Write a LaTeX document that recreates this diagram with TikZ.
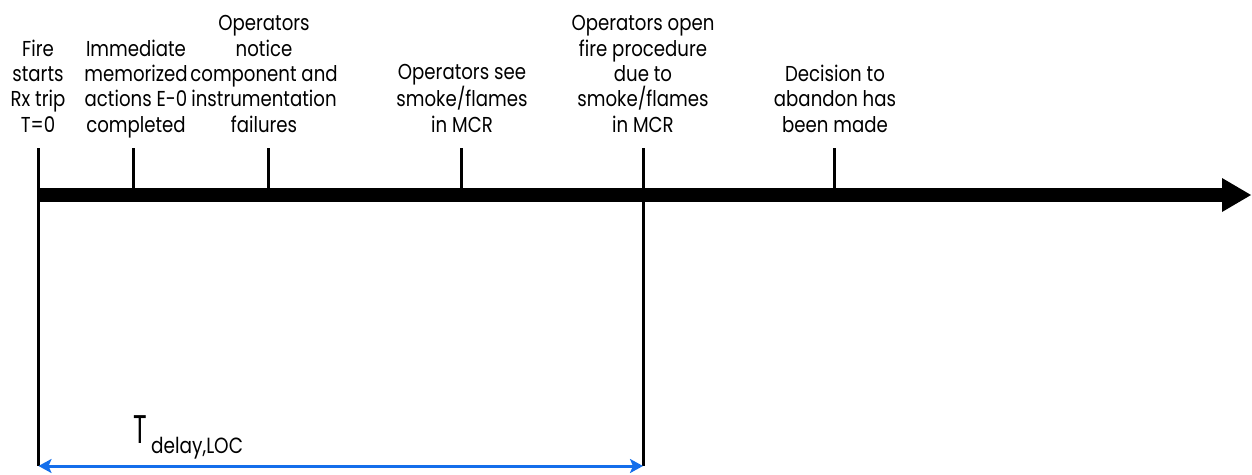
\documentclass[tikz,border=0pt]{standalone}
\usepackage{fontspec}
\setmainfont{Poppins}[FakeStretch=0.84]
\usetikzlibrary{arrows.meta}
\definecolor{tblue}{RGB}{20,110,235}
\begin{document}
\begin{tikzpicture}[x=1pt,y=-1pt,
  lbl/.style={align=center,anchor=base,inner sep=0pt,font=\fontsize{21.6}{25.3}\selectfont},
  tick/.style={line width=3pt},
  axis/.style={line width=14pt}]
\useasboundingbox (0,0) rectangle (1252,474);
% labels
\node[lbl] (l1) at (38,132) {Fire\\starts\\Rx trip\\T=0};
\node[lbl] (l2) at (136,132) {Immediate\\memorized\\actions E-0\\completed};
\node[lbl] (l3) at (264,132) {Operators\\notice\\component and\\instrumentation\\failures};
\node[lbl] (l4) at (462,132) {Operators see\\smoke/flames\\in MCR};
\node[lbl] (l5) at (643,132) {Operators open\\fire procedure\\due to\\smoke/flames\\in MCR};
\node[lbl] (l6) at (835,132) {Decision to\\abandon has\\been made};
% axis points
\coordinate (a0) at (38.5,195);
\coordinate (a1) at (133,195);
\coordinate (a2) at (268,195);
\coordinate (a3) at (461,195);
\coordinate (a4) at (643,195);
\coordinate (a5) at (834,195);
\coordinate (aend) at (1223,195);
\coordinate (tip) at (1251,195);
% axis
\draw[axis] (a0) -- (aend);
\fill (1222,178) -- (tip) -- (1222,212) -- cycle;
% ticks
\draw[tick] (38.5,148) -- (38.5,466);
\draw[tick] (a1) -- (a1 |- 0,148);
\draw[tick] (a2) -- (a2 |- 0,148);
\draw[tick] (a3) -- (a3 |- 0,148);
\draw[tick] (643,148) -- (643,466);
\draw[tick] (a5) -- (a5 |- 0,148);
% delay arrow
\coordinate (d0) at (38.5,466);
\coordinate (d1) at (643,466);
\draw[tblue,line width=3pt,{Stealth[length=13pt,width=14pt,inset=3pt]}-{Stealth[length=13pt,width=14pt,inset=3pt]}] (d0) -- (d1);
\node[anchor=base west,inner sep=0pt,font=\fontsize{40}{40}\selectfont] (T) at (133,443) {\scalebox{0.75}[1]{T}};
\node[anchor=base west,inner sep=0pt,font=\fontsize{22}{22}\selectfont] (sub) at (151,453) {delay,LOC};
\end{tikzpicture}
\end{document}
